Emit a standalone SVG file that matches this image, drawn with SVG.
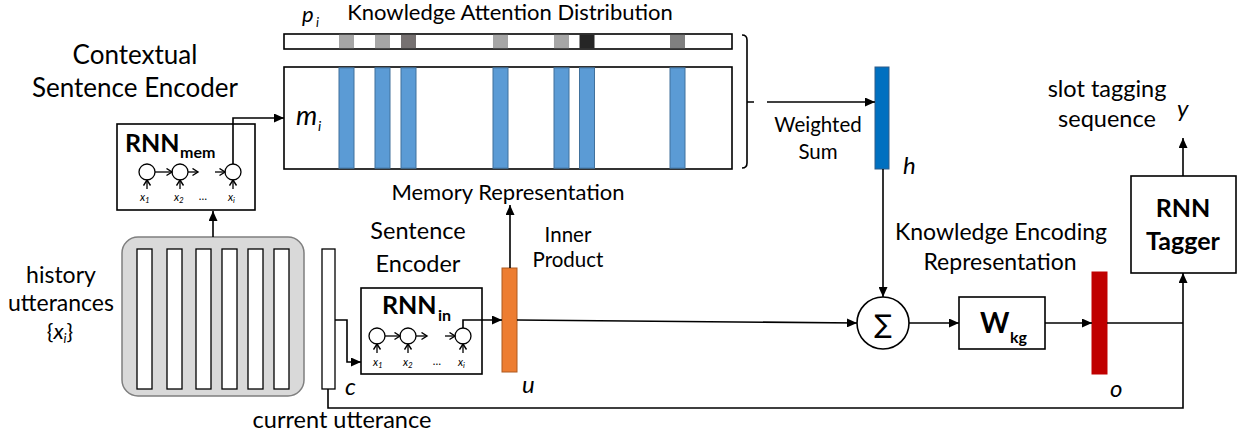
<svg xmlns="http://www.w3.org/2000/svg" width="1245" height="439" viewBox="0 0 1245 439">
<defs>
<marker id="arr" markerUnits="userSpaceOnUse" markerWidth="11" markerHeight="9" refX="10" refY="4.5" orient="auto"><path d="M0,0 L10,4.5 L0,9 z" fill="#000"/></marker>
<marker id="chev" markerUnits="userSpaceOnUse" markerWidth="8" markerHeight="9" refX="6.5" refY="4" orient="auto"><path d="M1,0.5 L6.5,4 L1,7.5" fill="none" stroke="#000" stroke-width="1.4"/></marker>
</defs>
<style>
text{font-family:Lato,"Liberation Sans",sans-serif;fill:#000}
.lbl{font-size:23px}
.big{font-size:26px}
.mid{font-size:23.5px}
.sm{font-size:20.5px}
.it{font-style:italic}
.b{font-weight:bold}
.box{fill:#fff;stroke:#000;stroke-width:1.6}
.con{fill:none;stroke:#000;stroke-width:1.6}
.mini{fill:none;stroke:#000;stroke-width:1.3}
.cell{fill:#fff;stroke:#000;stroke-width:1.3}
.blue{fill:#5b9bd5;stroke:#41719c;stroke-width:1}
.xl{font-size:11px;font-style:italic}
</style>
<rect width="1245" height="439" fill="#fff"/>

<g id="attention">
<rect x="284" y="34" width="448" height="15" class="box"/>
<rect x="339" y="34.8" width="15" height="13.4" fill="#a6a6a6"/>
<rect x="375" y="34.8" width="15" height="13.4" fill="#a6a6a6"/>
<rect x="401" y="34.8" width="15" height="13.4" fill="#767171"/>
<rect x="493" y="34.8" width="15" height="13.4" fill="#a6a6a6"/>
<rect x="554" y="34.8" width="15" height="13.4" fill="#a6a6a6"/>
<rect x="579.5" y="34.8" width="15" height="13.4" fill="#262626"/>
<rect x="670" y="34.8" width="15" height="13.4" fill="#808080"/>
<text x="302" y="22" class="it" style="font-size:22px">p</text><text x="316" y="27" class="it" style="font-size:13px">i</text>
<text x="510" y="20" text-anchor="middle" style="font-size:22px">Knowledge Attention Distribution</text>
</g>

<g id="memory">
<rect x="284" y="67" width="448" height="102" class="box"/>
<rect x="339" y="67.8" width="15" height="100.4" class="blue"/>
<rect x="375" y="67.8" width="15" height="100.4" class="blue"/>
<rect x="401" y="67.8" width="15" height="100.4" class="blue"/>
<rect x="493" y="67.8" width="15" height="100.4" class="blue"/>
<rect x="554" y="67.8" width="15" height="100.4" class="blue"/>
<rect x="579.5" y="67.8" width="15" height="100.4" class="blue"/>
<rect x="670" y="67.8" width="15" height="100.4" class="blue"/>
<text x="296" y="125" class="it" style="font-size:27px">m</text><text x="318" y="131" class="it" style="font-size:14px">i</text>
<text x="508" y="200" text-anchor="middle" style="font-size:22px">Memory Representation</text>
<path d="M742,35 Q747,35 747,40 V163 Q747,168 742,168 M747,102 H754" class="con" stroke-width="1.4"/>
</g>

<g id="ctx-label">
<text x="135" y="64" class="big" text-anchor="middle">Contextual</text>
<text x="135" y="97" class="big" text-anchor="middle">Sentence Encoder</text>
</g>

<g id="rnn-mem">
<rect x="117" y="124" width="138" height="86" class="box"/>
<text x="125" y="152" class="b" style="font-size:25px">RNN</text><text x="180" y="158" class="b" style="font-size:16px">mem</text>
<circle cx="147" cy="172" r="8" class="mini"/>
<circle cx="180" cy="172" r="8" class="mini"/>
<circle cx="233" cy="172" r="8" class="mini"/>
<path d="M155,172 H172" class="mini" marker-end="url(#chev)"/>
<path d="M188,172 H198" class="mini" marker-end="url(#chev)"/>
<path d="M215,172 H225" class="mini" marker-end="url(#chev)"/>
<path d="M147,189 V180" class="mini" marker-end="url(#chev)"/>
<path d="M180,189 V180" class="mini" marker-end="url(#chev)"/>
<path d="M233,189 V180" class="mini" marker-end="url(#chev)"/>
<text x="140" y="201" class="xl">x<tspan font-size="8" dy="2">1</tspan></text>
<text x="174" y="201" class="xl">x<tspan font-size="8" dy="2">2</tspan></text>
<text x="203" y="200" class="xl" text-anchor="middle" style="font-style:normal">…</text>
<text x="228" y="201" class="xl">x<tspan font-size="8" dy="2">i</tspan></text>
</g>

<g id="history">
<rect x="122" y="237" width="182" height="159" rx="16" fill="#d9d9d9" stroke="#7f7f7f" stroke-width="1.5"/>
<rect x="137" y="249" width="15" height="140" class="cell"/>
<rect x="167" y="249" width="15" height="140" class="cell"/>
<rect x="196" y="249" width="15" height="140" class="cell"/>
<rect x="222" y="249" width="15" height="140" class="cell"/>
<rect x="248" y="249" width="15" height="140" class="cell"/>
<rect x="274" y="249" width="15" height="140" class="cell"/>
<text x="61" y="283" class="lbl" text-anchor="middle">history</text>
<text x="61" y="311" class="lbl" text-anchor="middle">utterances</text>
<text x="60" y="339" text-anchor="middle" style="font-size:22px">{<tspan class="it">x</tspan><tspan class="it" font-size="13" dy="4">i</tspan><tspan dy="-4">}</tspan></text>
</g>

<g id="current">
<rect x="322" y="249" width="13" height="140" class="cell"/>
<text x="345" y="395" class="it" style="font-size:24px">c</text>
<text x="342" y="428" class="lbl" text-anchor="middle" style="font-size:23.5px">current utterance</text>
</g>

<g id="rnn-in">
<text x="418" y="239" class="mid" text-anchor="middle">Sentence</text>
<text x="418" y="272" class="mid" text-anchor="middle">Encoder</text>
<rect x="361" y="288" width="121" height="86" class="box"/>
<text x="382" y="314" class="b" style="font-size:25px">RNN</text><text x="438" y="321" class="b" style="font-size:16px">in</text>
<circle cx="377" cy="336" r="8" class="mini"/>
<circle cx="408" cy="336" r="8" class="mini"/>
<circle cx="463" cy="336" r="8" class="mini"/>
<path d="M385,336 H400" class="mini" marker-end="url(#chev)"/>
<path d="M416,336 H427" class="mini" marker-end="url(#chev)"/>
<path d="M445,336 H455" class="mini" marker-end="url(#chev)"/>
<path d="M377,353 V344" class="mini" marker-end="url(#chev)"/>
<path d="M408,353 V344" class="mini" marker-end="url(#chev)"/>
<path d="M463,353 V344" class="mini" marker-end="url(#chev)"/>
<text x="373" y="366" class="xl">x<tspan font-size="8" dy="2">1</tspan></text>
<text x="403" y="366" class="xl">x<tspan font-size="8" dy="2">2</tspan></text>
<text x="437" y="365" class="xl" text-anchor="middle" style="font-style:normal">…</text>
<text x="458" y="366" class="xl">x<tspan font-size="8" dy="2">i</tspan></text>
</g>

<g id="u">
<rect x="502" y="268" width="15" height="104" fill="#ed7d31" stroke="#ae5a21" stroke-width="1"/>
<text x="522" y="393" class="it" style="font-size:24px">u</text>
<text x="568" y="242" class="sm" text-anchor="middle">Inner</text>
<text x="568" y="267" class="sm" text-anchor="middle">Product</text>
</g>

<g id="h">
<rect x="875" y="67" width="14" height="102" fill="#0070c0" stroke="#2e5c8a" stroke-width="1"/>
<text x="903" y="174" class="it" style="font-size:24px">h</text>
<text x="818" y="132" text-anchor="middle" style="font-size:20.5px">Weighted</text>
<text x="818" y="159" text-anchor="middle" style="font-size:20.5px">Sum</text>
</g>

<g id="sum">
<circle cx="883" cy="323" r="26" class="box"/>
<text x="883" y="333" text-anchor="middle" style="font-size:26px;font-family:'DejaVu Sans',sans-serif">∑</text>
</g>

<g id="wkg">
<rect x="959" y="297" width="86" height="52" class="box"/>
<text x="980" y="333" class="b" style="font-size:28px">W</text><text x="1010" y="343" class="b" style="font-size:16px">kg</text>
<text x="1001" y="240" class="lbl" text-anchor="middle">Knowledge Encoding</text>
<text x="1000" y="270" class="lbl" text-anchor="middle">Representation</text>
</g>

<g id="o">
<rect x="1092" y="272" width="15" height="102" fill="#c00000" stroke="#c00000" stroke-width="1"/>
<text x="1110" y="397" class="it" style="font-size:24px">o</text>
</g>

<g id="tagger">
<rect x="1131" y="176" width="105" height="97" class="box"/>
<text x="1183" y="217" class="b" text-anchor="middle" style="font-size:25px">RNN</text>
<text x="1183" y="250" class="b" text-anchor="middle" style="font-size:25px">Tagger</text>
<text x="1107" y="97" class="lbl" text-anchor="middle" style="font-size:23.5px">slot tagging</text>
<text x="1107" y="127" class="lbl" text-anchor="middle" style="font-size:23.5px">sequence</text>
<text x="1177" y="117" class="it" style="font-size:24px">y</text>
</g>

<g id="connectors">
<path d="M233,164 V118 H284" class="con" marker-end="url(#arr)"/>
<path d="M213,237 V211" class="con" marker-end="url(#arr)"/>
<path d="M335,320 H347 V362 H361" class="con" marker-end="url(#arr)"/>
<path d="M463,328 V320 H502" class="con" marker-end="url(#arr)"/>
<path d="M510,268 V205" class="con" marker-end="url(#arr)"/>
<path d="M517,320 L857,323" class="con" marker-end="url(#arr)"/>
<path d="M767,102 H875" class="con" marker-end="url(#arr)"/>
<path d="M883,169 V297" class="con" marker-end="url(#arr)"/>
<path d="M909,323 H959" class="con" marker-end="url(#arr)"/>
<path d="M1045,323 H1092" class="con" marker-end="url(#arr)"/>
<path d="M1107,323 H1183" class="con"/>
<path d="M328,389 V408 H1183 V273" class="con" marker-end="url(#arr)"/>
<path d="M1183,176 V138" class="con" marker-end="url(#arr)"/>
</g>
</svg>
